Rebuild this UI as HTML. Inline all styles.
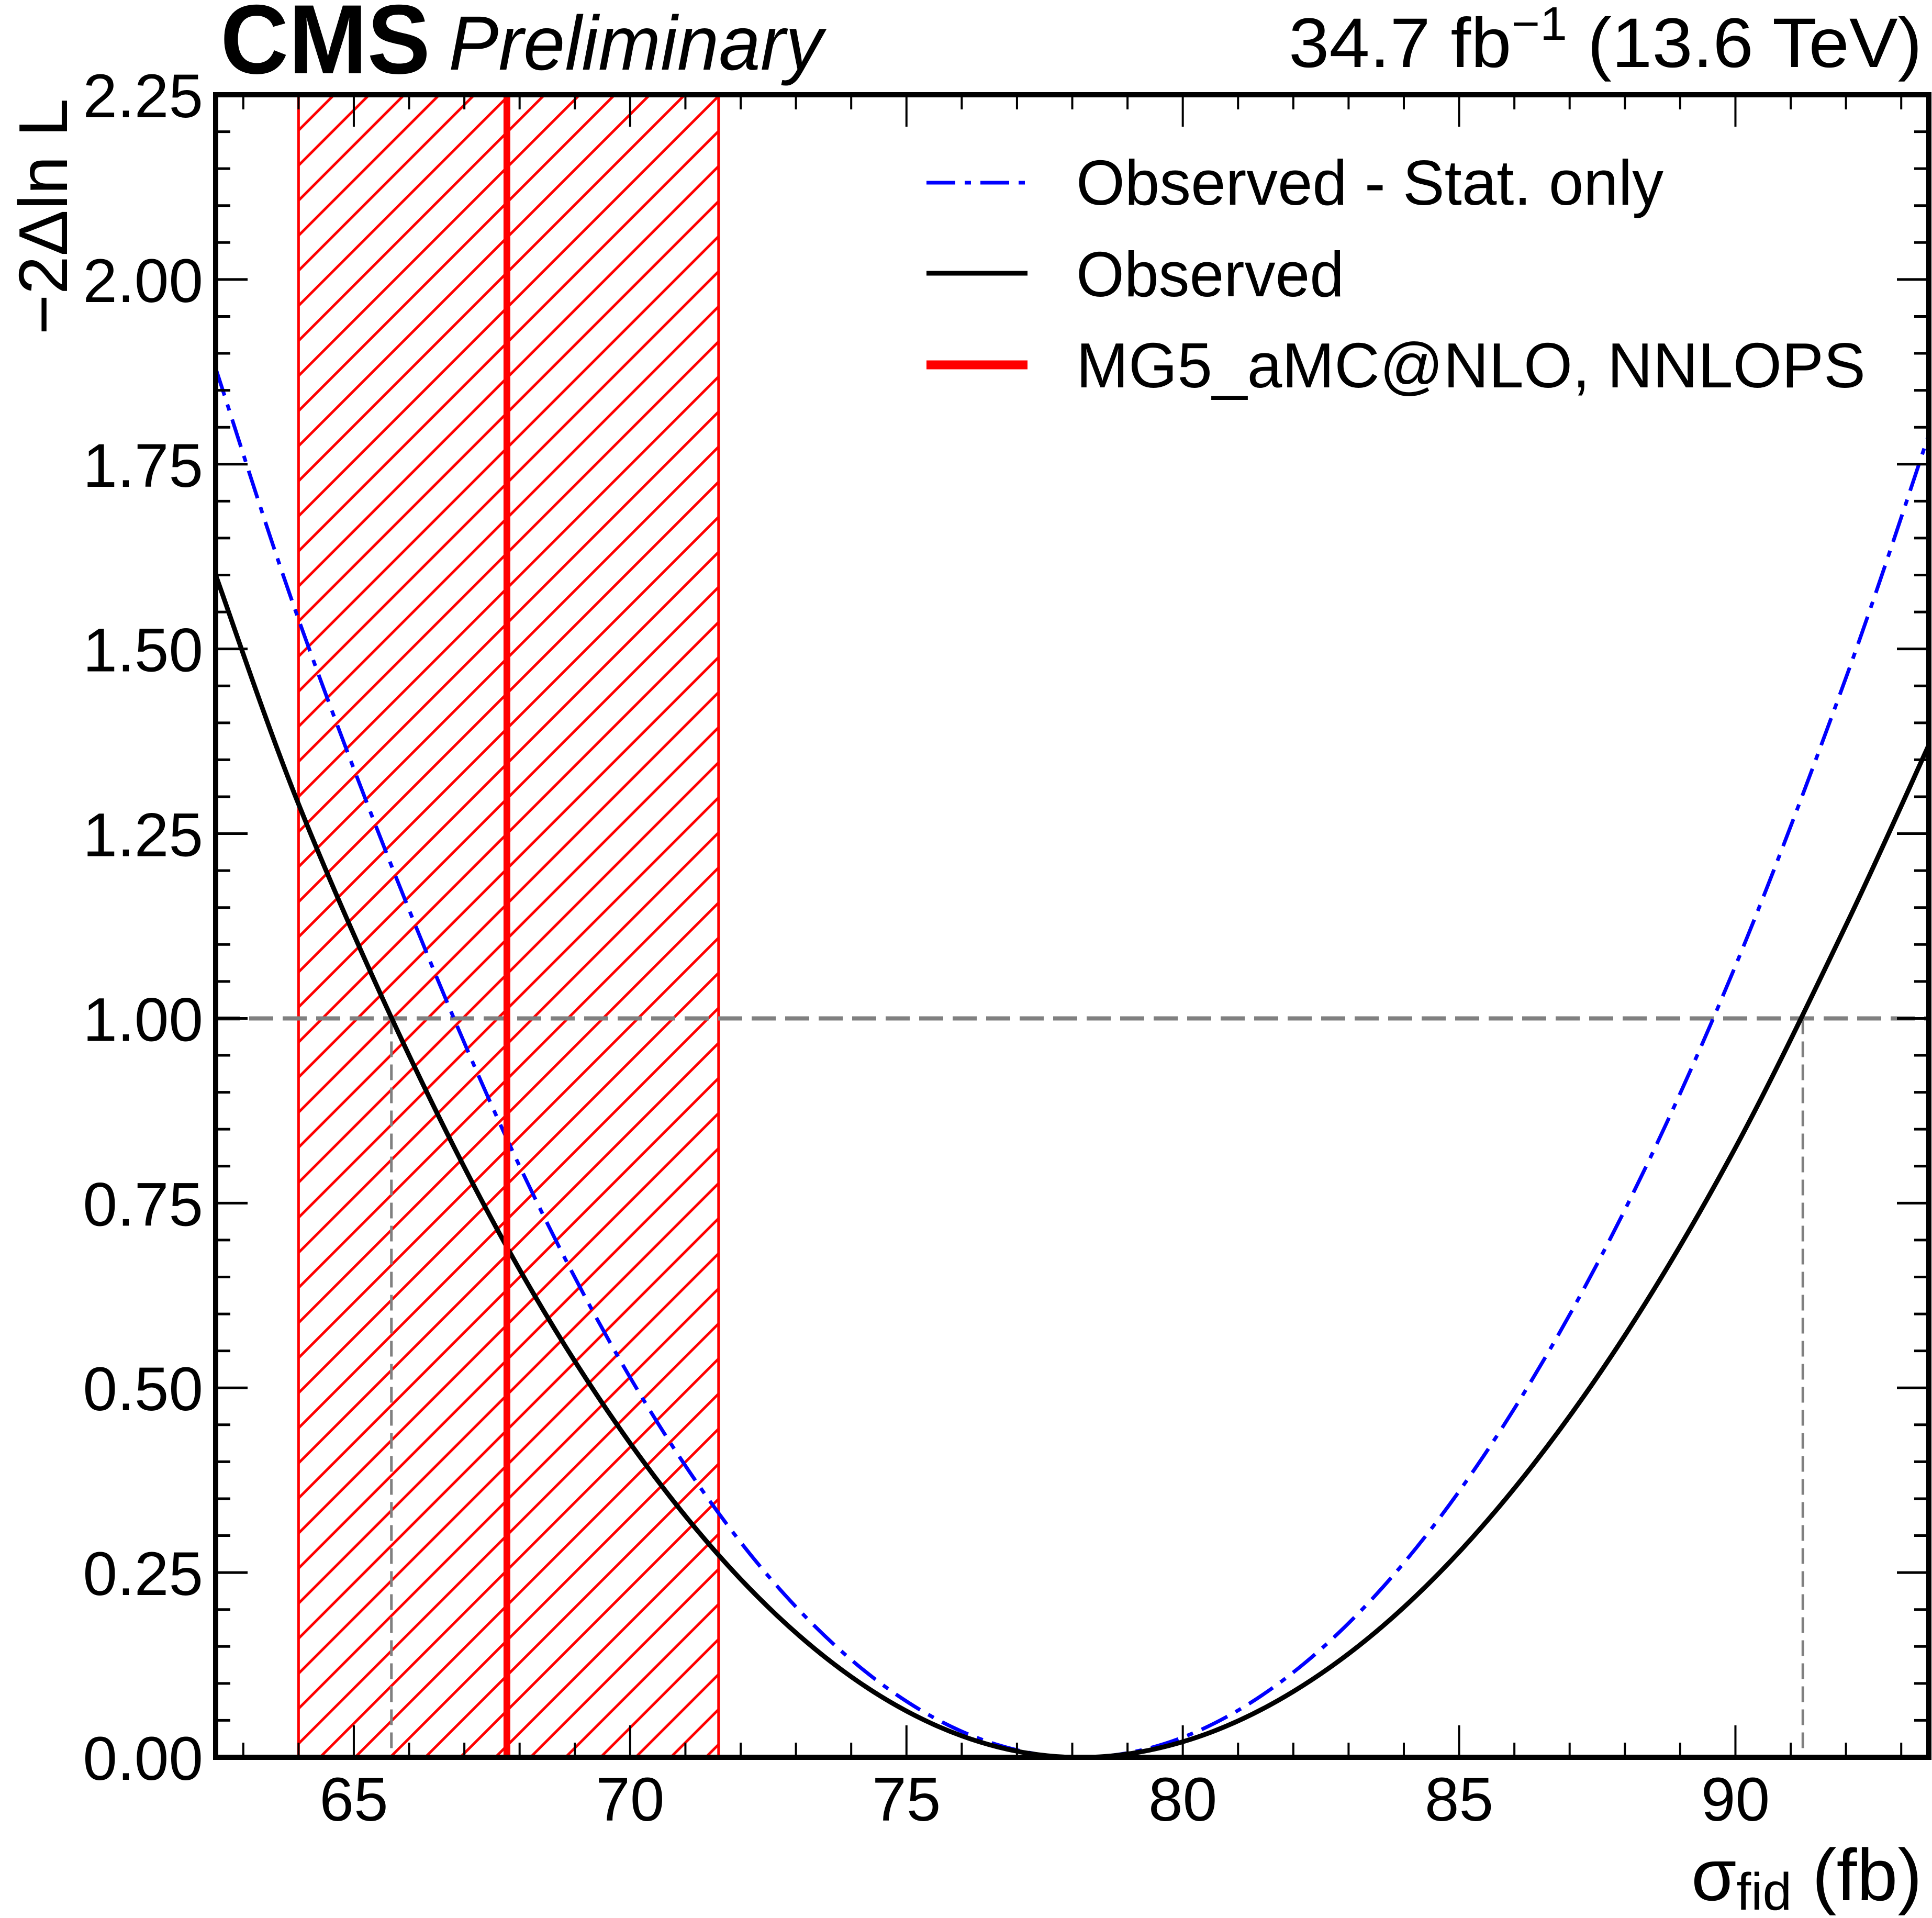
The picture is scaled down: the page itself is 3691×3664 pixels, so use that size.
<!DOCTYPE html>
<html><head><meta charset="utf-8"><style>
html,body{margin:0;padding:0;background:#fff;overflow:hidden;width:3691px;height:3664px}
svg{display:block}
text{font-family:"Liberation Sans",sans-serif;fill:#000}
</style></head><body>
<svg id="chart" width="3691" height="3664" viewBox="0 0 3691 3664" xmlns="http://www.w3.org/2000/svg">
<defs><clipPath id="plotclip"><rect x="412" y="181" width="3273" height="3176"/></clipPath></defs>
<g id="band" clip-path="url(#plotclip)"></g>
<g id="grid"></g>
<g id="curves" clip-path="url(#plotclip)"></g>
<g id="axes"></g>
<text x="421" y="140" font-size="188" font-weight="bold" textLength="401" lengthAdjust="spacingAndGlyphs">CMS</text>
<text x="857" y="133" font-size="147" font-style="italic" textLength="715" lengthAdjust="spacingAndGlyphs">Preliminary</text>
<text x="2462" y="128" font-size="134" textLength="1210" lengthAdjust="spacingAndGlyphs">34.7 fb<tspan font-size="90" dy="-52">−1</tspan><tspan dy="52"> (13.6 TeV)</tspan></text>
<text transform="translate(128,188) rotate(-90)" font-size="132" text-anchor="end">−2Δln L</text>
<text x="3672" y="3630" font-size="140" text-anchor="end">σ<tspan font-size="100" dy="18">fid</tspan><tspan dy="-18"> (fb)</tspan></text>
<g>
<line x1="1770" y1="349" x2="1963" y2="349" stroke="#0000ff" stroke-width="7" stroke-dasharray="55,18,12,18"/>
<text x="2056" y="391" font-size="122" textLength="1122" lengthAdjust="spacingAndGlyphs">Observed - Stat. only</text>
<line x1="1770" y1="522" x2="1963" y2="522" stroke="#000" stroke-width="9"/>
<text x="2056" y="566" font-size="122" textLength="512" lengthAdjust="spacingAndGlyphs">Observed</text>
<line x1="1770" y1="697" x2="1963" y2="697" stroke="#ff0000" stroke-width="17"/>
<text x="2056" y="740" font-size="122" textLength="1508" lengthAdjust="spacingAndGlyphs">MG5_aMC@NLO, NNLOPS</text>
</g>
</svg>
<script>
const obsX = [62.5,64,66,68,70,72,74,76,78,80,82,84,86,88,90,92,93.5];
const obsY = [1.60,1.29,0.95,0.66,0.425,0.241,0.109,0.029,0.0,0.021,0.089,0.203,0.364,0.571,0.825,1.126,1.37];
const statX = [62.5,64,66,68,70,72,74,76,78,80,82,84,86,88,90,92,93.5];
const statY = [1.88,1.54,1.147,0.80,0.514,0.291,0.132,0.035,0.0,0.027,0.115,0.263,0.472,0.741,1.071,1.461,1.79];
const predCentral = [67.77];
const predBand = [64.0, 71.6];
const crossings = [65.68, 91.22];
const refLevel = [1.0];
const xTicks = [65,70,75,80,85,90];
const yTicks = [0,0.25,0.5,0.75,1.0,1.25,1.5,1.75,2.0,2.25];
const yTickLabels = ["0.00","0.25","0.50","0.75","1.00","1.25","1.50","1.75","2.00","2.25"];

const X0=412,X1=3685,Y0=3357,Y1=181,xmin=62.5,xmax=93.5,ymin=0,ymax=2.25;
const sx=v=>X0+(v-xmin)/(xmax-xmin)*(X1-X0);
const sy=v=>Y0-(v-ymin)/(ymax-ymin)*(Y0-Y1);
const NS="http://www.w3.org/2000/svg";
function mk(tag,parent,attrs){const e=document.createElementNS(NS,tag);for(const k in attrs)e.setAttribute(k,attrs[k]);parent.appendChild(e);return e;}
function spline(xs,ys){
  const p=xs.map((x,i)=>[sx(x),sy(ys[i])]);
  let d="M"+p[0][0]+","+p[0][1];
  for(let i=0;i<p.length-1;i++){
    const a=p[Math.max(i-1,0)],b=p[i],c=p[i+1],e=p[Math.min(i+2,p.length-1)];
    const c1=[b[0]+(c[0]-a[0])/6,b[1]+(c[1]-a[1])/6];
    const c2=[c[0]-(e[0]-b[0])/6,c[1]-(e[1]-b[1])/6];
    d+=" C"+c1[0]+","+c1[1]+" "+c2[0]+","+c2[1]+" "+c[0]+","+c[1];
  }
  return d;
}
const band=document.getElementById('band');
const bl=sx(predBand[0]),br=sx(predBand[1]);
const defs=document.querySelector('defs');
const cp=mk('clipPath',defs,{id:'bandclip'});
mk('rect',cp,{x:bl,y:Y1,width:br-bl,height:Y0-Y1});
const hatch=mk('g',band,{});


hatch.setAttribute('clip-path','url(#bandclip)');
for(let c=Y1-(br-bl)-200;c<Y0+(br-bl)+200;c+=67){
  mk('line',hatch,{x1:bl,y1:c+(br-bl),x2:br,y2:c,stroke:'#ff0000','stroke-width':5});
}
const bL=mk('line',band,{x1:bl,y1:Y1,x2:bl,y2:Y0,stroke:'#ff0000','stroke-width':5});


const bR=mk('line',band,{x1:br,y1:Y1,x2:br,y2:Y0,stroke:'#ff0000','stroke-width':5});


const grid=document.getElementById('grid');
const hl=mk('line',grid,{x1:X0,y1:sy(refLevel[0]),x2:X1,y2:sy(refLevel[0]),stroke:'#808080','stroke-width':8,'stroke-dasharray':'46,18'});


crossings.forEach(c=>{
  const v=mk('line',grid,{x1:sx(c),y1:sy(refLevel[0]),x2:sx(c),y2:Y0,stroke:'#808080','stroke-width':5,'stroke-dasharray':'30,14'});
  
  
});
const cg=document.getElementById('curves');
const ps=mk('path',cg,{d:spline(statX,statY),fill:'none',stroke:'#0000ff','stroke-width':7,'stroke-dasharray':'55,18,12,18'});


const po=mk('path',cg,{d:spline(obsX,obsY),fill:'none',stroke:'#000','stroke-width':9});


const pc=mk('line',cg,{x1:sx(predCentral[0]),y1:Y1,x2:sx(predCentral[0]),y2:Y0,stroke:'#ff0000','stroke-width':13});


const ax=document.getElementById('axes');
for(let v=63;v<=93;v++){
  const major=xTicks.includes(v);const L=major?61:28;
  const t1=mk('line',ax,{x1:sx(v),y1:Y0,x2:sx(v),y2:Y0-L,stroke:'#000','stroke-width':4});
  
  
  const t2=mk('line',ax,{x1:sx(v),y1:Y1,x2:sx(v),y2:Y1+L,stroke:'#000','stroke-width':4});
  
  
}
xTicks.forEach(v=>{
  const t=mk('text',ax,{x:sx(v),y:3478,'font-size':118,'text-anchor':'middle'});
  t.textContent=String(v);
  
  
});
for(let i=0;i<=45;i++){
  const v=i*0.05;const major=i%5===0;const L=major?61:28;
  const t1=mk('line',ax,{x1:X0,y1:sy(v),x2:X0+L,y2:sy(v),stroke:'#000','stroke-width':5});
  
  
  const t2=mk('line',ax,{x1:X1,y1:sy(v),x2:X1-L,y2:sy(v),stroke:'#000','stroke-width':5});
  
  
}
yTicks.forEach((v,i)=>{
  const t=mk('text',ax,{x:388,y:sy(v)+43,'font-size':118,'text-anchor':'end'});
  t.textContent=yTickLabels[i];
  
  
});
const frame=mk('rect',ax,{x:X0,y:Y1,width:X1-X0,height:Y0-Y1,fill:'none',stroke:'#000','stroke-width':10});


</script>
</body></html>
